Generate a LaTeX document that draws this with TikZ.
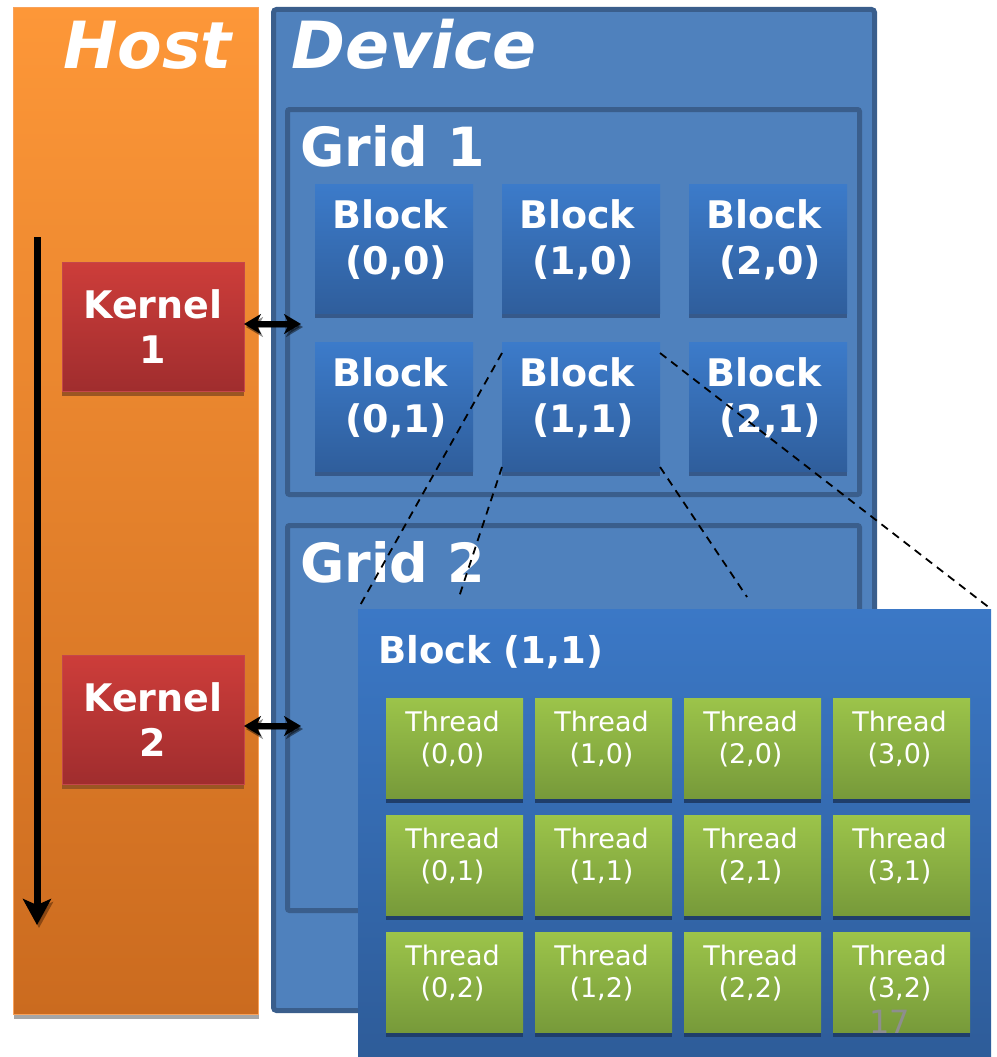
\documentclass[tikz,border=0pt]{standalone}
\usepackage{fontspec}
\setmainfont{DejaVu Sans}
\usetikzlibrary{arrows.meta,shadows}

\definecolor{hosttop}{HTML}{FD9738}
\definecolor{hostbot}{HTML}{CB6B1F}
\definecolor{hostedge}{HTML}{F9A25A}
\definecolor{devfill}{HTML}{4F81BD}
\definecolor{devedge}{HTML}{3A5E8C}
\definecolor{blktop}{HTML}{3C7BCA}
\definecolor{blkbot}{HTML}{2F5E9C}
\definecolor{blkshade}{HTML}{36598A}
\definecolor{bigtop}{HTML}{3B78C6}
\definecolor{bigbot}{HTML}{2E5C99}
\definecolor{thrtop}{HTML}{9CC44A}
\definecolor{thrbot}{HTML}{779A3A}
\definecolor{thrshade}{HTML}{1F3E6B}
\definecolor{kertop}{HTML}{CD3D3A}
\definecolor{kerbot}{HTML}{A02D2E}
\definecolor{keredge}{HTML}{C4474A}
\definecolor{kershade}{HTML}{9B5522}
\definecolor{arrshade}{HTML}{7A3E10}
\definecolor{pagenum}{HTML}{8E8E8E}

\begin{document}
\begin{tikzpicture}[x=1pt,y=-1pt,
  box/.style={rectangle, anchor=north west, inner sep=0pt, outer sep=0pt},
  hostbox/.style={box, minimum width=245pt, minimum height=1007pt,
    top color=hosttop, bottom color=hostbot, draw=hostedge, line width=1.5pt,
    drop shadow={shadow xshift=0pt, shadow yshift=-4pt, fill=black!35, opacity=1}},
  devbox/.style={box, minimum width=601pt, minimum height=1001pt,
    fill=devfill, draw=devedge, line width=5pt, rounded corners=3pt},
  gridbox/.style={box, minimum width=572pt, minimum height=385pt,
    fill=devfill, draw=devedge, line width=5pt, rounded corners=2pt},
  kernel/.style={box, minimum width=182pt, minimum height=129pt,
    top color=kertop, bottom color=kerbot, draw=keredge, line width=1pt,
    text=white, align=center, font=\fontsize{38}{45}\selectfont\bfseries,
    drop shadow={shadow xshift=0pt, shadow yshift=-5pt, fill=kershade, opacity=1}},
  gblock/.style={box, minimum width=158pt, minimum height=129pt,
    top color=blktop, bottom color=blkbot,
    drop shadow={shadow xshift=0pt, shadow yshift=-5pt, fill=blkshade, opacity=1}},
  blocklbl/.style={text=white, align=left, inner sep=0pt, yshift=9pt, xshift=-4pt,
    font=\fontsize{38}{46}\selectfont\bfseries},
  bigblock/.style={box, minimum width=633pt, minimum height=448pt,
    top color=bigtop, bottom color=bigbot},
  thread/.style={box, minimum width=137pt, minimum height=100pt,
    top color=thrtop, bottom color=thrbot,
    drop shadow={shadow xshift=0pt, shadow yshift=-5pt, fill=thrshade, opacity=1}},
  threadlbl/.style={text=white, align=center, inner sep=0pt, yshift=8.5pt, xshift=-2pt,
    font=\fontsize{27}{32}\selectfont},
  bigtitle/.style={text=white, inner sep=0pt, anchor=base west,
    font=\fontsize{65}{70}\selectfont\bfseries\itshape},
  gridtitle/.style={text=white, inner sep=0pt, anchor=base west,
    font=\fontsize{54}{60}\selectfont\bfseries},
  blocktitle/.style={text=white, inner sep=0pt, anchor=base west,
    font=\fontsize{37}{46}\selectfont\bfseries},
  dblarrow/.style={line width=6pt,
    {Stealth[length=17pt,width=20pt,inset=5pt]}-{Stealth[length=17pt,width=20pt,inset=5pt]},
    preaction={draw=black, opacity=0.45, transform canvas={shift={(2pt,-3pt)}}}},
  timeline/.style={line width=7pt, -{Stealth[length=26pt,width=28pt,inset=6pt]},
    preaction={draw=arrshade, opacity=0.8, transform canvas={shift={(2pt,-3pt)}}}},
  dashline/.style={line width=1.8pt, dash pattern=on 8pt off 6pt, black}
]
\useasboundingbox (0,0) rectangle (996,1057);

% host column and device frame
\node[hostbox] (host) at (13.5,7.5) {};
\node[devbox] (device) at (273.5,9.5) {};
\node[bigtitle] (hostt) at (63,68) {Host};
\node[bigtitle] (devt) at (291,68) {Device};

% the two grids
\node[gridbox] (grid1) at (287.5,109.5) {};
\node[gridbox] (grid2) at (287.5,525.5) {};
\node[gridtitle] (g1t) at (300,166) {Grid 1};
\node[gridtitle] (g2t) at (300,582) {Grid 2};

% blocks of grid 1
\foreach \i in {0,1,2}{
  \foreach \j in {0,1}{
    \node[gblock, label={[name=b\i\j t, blocklbl]center:{Block\\\ (\i,\j)}}]
      (b\i\j) at (315+187*\i, 184+158*\j) {};
  }
}

% kernels launched from the host
\node[kernel] (k1) at (62,262) {Kernel\\1};
\node[kernel] (k2) at (62,655) {Kernel\\2};

% time runs downwards
\coordinate (tl0) at (37,237);
\coordinate (tl1) at (37,925);
\draw[timeline] (tl0) -- (tl1);

% kernel <-> grid
\coordinate (a1) at (301,324);
\coordinate (a2) at (301,726);
\draw[dblarrow] (k1.east |- a1) -- (a1);
\draw[dblarrow] (k2.east |- a2) -- (a2);

% zoom of block (1,1)
\node[bigblock] (big) at (358,609) {};
\coordinate (c2) at (459,597);
\coordinate (c3) at (747,597);
\draw[dashline] ([yshift=-11pt]b11.north west) -- (big.north west);
\draw[dashline] ([yshift=4pt]b11.south west) -- (c2);
\draw[dashline] ([yshift=4pt]b11.south east) -- (c3);
\draw[dashline] ([yshift=-11pt]b11.north east) -- (big.north east);
\node[blocktitle] (bigt) at (378,663) {Block (1,1)};

% threads of block (1,1)
\foreach \i in {0,1,2,3}{
  \foreach \j in {0,1,2}{
    \node[thread, label={[name=t\i\j t, threadlbl]center:{Thread\\ (\i,\j)}}]
      (t\i\j) at (386+149*\i, 698+117*\j) {};
  }
}

% slide number
\node[anchor=base west, inner sep=0pt, text=pagenum, font=\fontsize{32}{32}\selectfont] (pg) at (869,1033) {17};
\end{tikzpicture}
\end{document}
